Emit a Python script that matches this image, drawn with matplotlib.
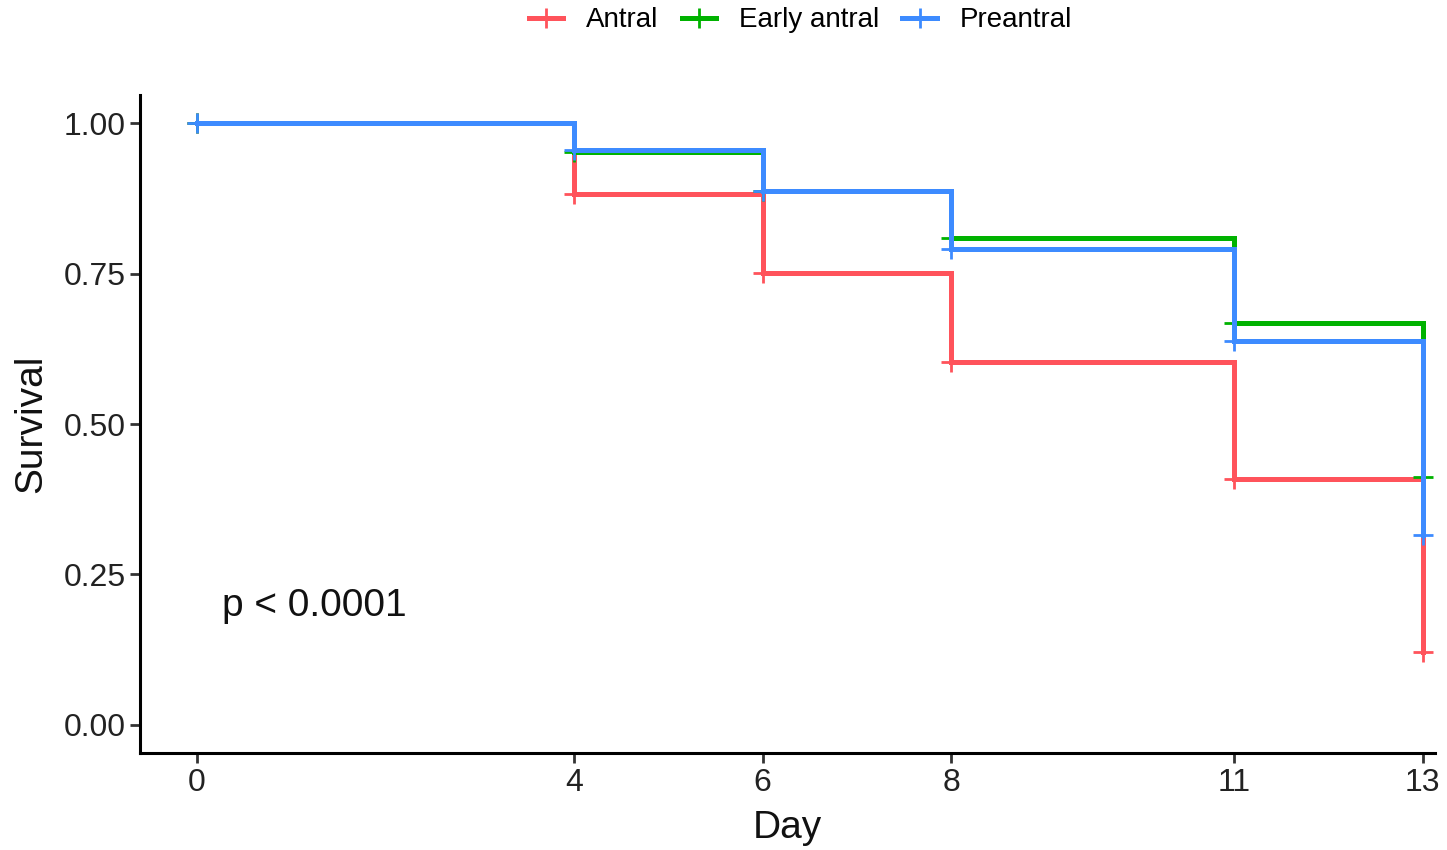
import matplotlib
matplotlib.use("Agg")
import matplotlib.pyplot as plt
from matplotlib.lines import Line2D

plt.rcParams['font.family'] = ['Liberation Sans', 'DejaVu Sans']

# data
days = [0, 4, 6, 8, 11, 13]
groups = ['Antral', 'Early antral', 'Preantral']
antral = [1.0, 0.882, 0.751, 0.603, 0.409, 0.121]
early_antral = [1.0, 0.952, 0.887, 0.809, 0.668, 0.412]
preantral = [1.0, 0.956, 0.887, 0.791, 0.638, 0.316]
colors = ['#FF535B', '#00B200', '#3D8BFF']
y_ticks = [0.0, 0.25, 0.5, 0.75, 1.0]
y_tick_labels = ['0.00', '0.25', '0.50', '0.75', '1.00']

fig = plt.figure(figsize=(14.47, 8.5), dpi=100)
ax = fig.add_axes([0.0968, 0.114, 0.895, 0.774])

for vals, col in zip([antral, early_antral, preantral], colors):
    ax.plot(days, vals, drawstyle='steps-post', color=col, linewidth=3.6,
            solid_joinstyle='miter')
    ax.plot(days, vals, linestyle='none', marker='+', color=col,
            markersize=14, markeredgewidth=2)

ax.text(0.27, 0.198, 'p < 0.0001', fontsize=28, ha='left', va='center',
        color='#111111')

ax.set_xlim(-0.6, 13.13)
ax.set_ylim(-0.047, 1.047)
ax.set_xticks(days)
ax.set_yticks(y_ticks)
ax.set_yticklabels(y_tick_labels)
ax.tick_params(labelsize=23, width=2, length=7, color='#333333',
               labelcolor='#222222')
ax.spines['top'].set_visible(False)
ax.spines['right'].set_visible(False)
for s in ['left', 'bottom']:
    ax.spines[s].set_linewidth(2.2)
ax.set_xlabel('Day', fontsize=28, labelpad=9, color='#111111')
ax.set_ylabel('Survival', fontsize=28, labelpad=10, color='#111111')

handles = [Line2D([0], [0], color=c, linewidth=3.6, marker='+',
                  markersize=14, markeredgewidth=2) for c in colors]
fig.legend(handles, groups, loc='center', bbox_to_anchor=(0.553, 0.976),
           ncol=3, frameon=False, fontsize=20, handlelength=1.25,
           columnspacing=0.85, handletextpad=0.8)

fig.savefig('out.png', dpi=100)
